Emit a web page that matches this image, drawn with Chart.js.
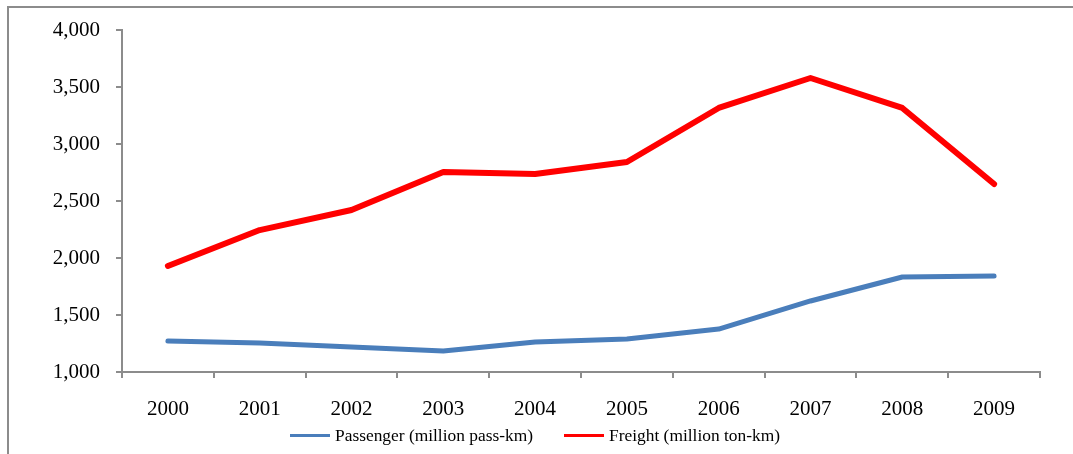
<!DOCTYPE html>
<html>
<head>
<meta charset="utf-8">
<script src="https://cdn.jsdelivr.net/npm/chart.js@4/dist/chart.umd.min.js"></script>
<style>
    html, body { margin: 0; padding: 0; background: #fff; }
    #wrap { position: relative; width: 1073px; height: 454px; }
    #frame {
        position: absolute; left: 7px; top: 6px; width: 1080px; height: 460px;
        border-left: 2px solid #8c8c8c; border-top: 2px solid #8c8c8c;
    }
    canvas { position: absolute; left: 0; top: 0; }
    #legend {
        position: absolute; left: 290px; top: 424px; height: 22px;
        display: flex; align-items: center;
        font-family: 'Liberation Serif', 'Times New Roman', serif; font-size: 17.4px; color: #000;
        white-space: nowrap;
    }
    .item { display: flex; align-items: center; margin-right: 31px; }
    .swatch { width: 40px; height: 3px; margin-right: 5px; }
</style>
</head>
<body>
<div id="wrap">
    <div id="frame"></div>
    <canvas id="railChart" width="1073" height="454"></canvas>
    <div id="legend"></div>
</div>
<script>
const years = ["2000", "2001", "2002", "2003", "2004", "2005", "2006", "2007", "2008", "2009"];
const passenger = [1272, 1254, 1219, 1184, 1263, 1289, 1377, 1623, 1833, 1842];
const freight = [1930, 2245, 2421, 2754, 2737, 2842, 3316, 3579, 3316, 2649];
const yTicks = [1000, 1500, 2000, 2500, 3000, 3500, 4000];

const font = "'Liberation Serif', 'Times New Roman', serif";
const axisGrey = "#8c8c8c";

const ctx = document.getElementById("railChart").getContext("2d");

let chart = new Chart(ctx, {
    type: "line",
    data: {
        labels: years,
        datasets: [{
            label: "Passenger (million pass-km)",
            data: passenger,
            borderColor: "#4a7ebb",
            backgroundColor: "#4a7ebb",
            borderWidth: 5,
            borderCapStyle: "round",
            borderJoinStyle: "round",
            pointRadius: 0,
            tension: 0
        }, {
            label: "Freight (million ton-km)",
            data: freight,
            borderColor: "#ff0000",
            backgroundColor: "#ff0000",
            borderWidth: 6,
            borderCapStyle: "round",
            borderJoinStyle: "round",
            pointRadius: 0,
            tension: 0
        }]
    },
    options: {
        responsive: false,
        animation: false,
        layout: { padding: { left: 30, top: 30, right: 33, bottom: 26 } },
        plugins: {
            tooltip: { enabled: false },
            legend: { display: false }
        },
        scales: {
            x: {
                offset: true,
                grid: { display: true, offset: true, drawOnChartArea: false, drawTicks: true, tickLength: 6, color: axisGrey, lineWidth: 2 },
                border: { color: axisGrey, width: 2 },
                ticks: { font: { family: font, size: 21 }, color: "#000", padding: 19, maxRotation: 0 },
                afterFit(scale) { scale.height = 56; }
            },
            y: {
                min: 1000,
                max: 4000,
                afterBuildTicks(scale) { scale.ticks = yTicks.map(v => ({ value: v })); },
                grid: { display: true, drawOnChartArea: false, drawTicks: true, tickLength: 6, color: axisGrey, lineWidth: 2 },
                border: { color: axisGrey, width: 2 },
                ticks: {
                    font: { family: font, size: 21 },
                    color: "#000",
                    padding: 16,
                    callback: v => v.toLocaleString("en-US")
                },
                afterFit(scale) { scale.width = 92; }
            }
        }
    }
});

// legend built from the chart's own datasets
const legend = document.getElementById("legend");
chart.data.datasets.forEach(ds => {
    const item = document.createElement("div");
    item.className = "item";
    const sw = document.createElement("span");
    sw.className = "swatch";
    sw.style.background = ds.borderColor;
    const txt = document.createElement("span");
    txt.textContent = ds.label;
    item.appendChild(sw);
    item.appendChild(txt);
    legend.appendChild(item);
});
</script>
</body>
</html>
